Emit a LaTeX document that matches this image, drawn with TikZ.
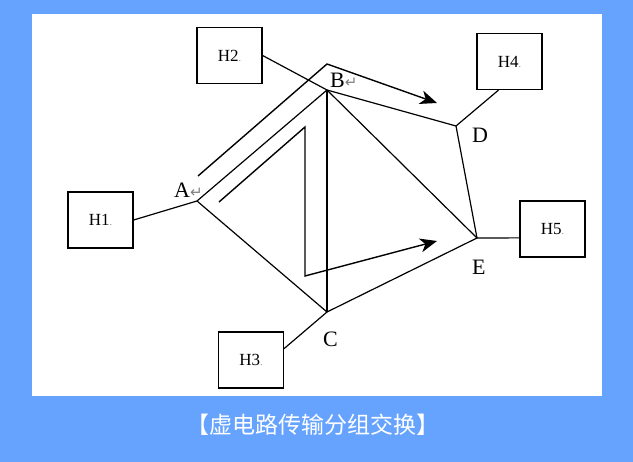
\documentclass[tikz,border=0pt]{standalone}
\usepackage{fontspec}
\setmainfont{Liberation Serif}
\newfontfamily\cjk{Noto Sans CJK SC}
\newfontfamily\symfont{DejaVu Sans}
\usetikzlibrary{arrows.meta}
\definecolor{bgblue}{HTML}{66A3FF}
\newcommand{\pmark}{{\color{gray}\symfont\fontsize{15}{15}\selectfont ↵}}
\newcommand{\gdot}{{\color{gray}\fontsize{10}{10}\selectfont .}}
\tikzset{
  host/.style={draw, line width=1.2pt, minimum width=65pt, minimum height=56pt, inner sep=0pt, font=\fontsize{17}{17}\selectfont},
  link/.style={line width=1.2pt},
  route/.style={line width=1.4pt, -{Stealth[length=17pt,width=14pt,inset=5pt]}},
  lbl/.style={anchor=base west, inner sep=0pt, font=\fontsize{22}{22}\selectfont},
}
\begin{document}
\begin{tikzpicture}[x=1pt,y=-1pt]
  \fill[bgblue] (0,0) rectangle (633,462);
  \fill[white] (32,14) rectangle (602,396);
  \useasboundingbox (0,0) rectangle (633,462);

  \coordinate (A) at (197,201);
  \coordinate (B) at (327,90);
  \coordinate (C) at (327,312);
  \coordinate (D) at (456,126);
  \coordinate (E) at (477,238);

  \node[lbl] (la) at (174,198) {A\pmark};
  \node[lbl] (lb) at (330,88) {B\pmark};
  \node[lbl] (lc) at (323,347) {C};
  \node[lbl] (ld) at (472,143) {D};
  \node[lbl] (le) at (472,275) {E};

  \node[host] (h1) at (100.5,220) {H1\gdot};
  \node[host] (h2) at (229.5,55.5) {H2\gdot};
  \node[host] (h3) at (251,360) {H3\gdot};
  \node[host] (h4) at (509.5,61.5) {H4\gdot};
  \node[host] (h5) at (552.5,229) {H5\gdot};

  \draw[link] (h1.east) -- (A);
  \draw[link] (h2.east) -- (B);
  \draw[link] (h3.19) -- (C);
  \draw[link] (h4.249) -- (D);
  \draw[link] (h5.195) -- (E);

  \draw[link] (A) -- (B) -- (D) -- (E) -- (C) -- (A);
  \draw[link] (B) -- (C);
  \draw[link] (B) -- (E);

  \coordinate (r1s) at (198,176);
  \coordinate (r1t) at (327,64);
  \coordinate (r1e) at (437,103);
  \draw[route] (r1s) -- (r1t) -- (r1e);

  \coordinate (r2s) at (219,202);
  \coordinate (r2t) at (305,127);
  \coordinate (r2b) at (305,276);
  \coordinate (r2e) at (437,241);
  \draw[route] (r2s) -- (r2t) -- (r2b) -- (r2e);

  \node[text=white, font=\cjk\fontsize{23}{23}\selectfont] (cap) at (313,425) {【虚电路传输分组交换】};
\end{tikzpicture}
\end{document}
